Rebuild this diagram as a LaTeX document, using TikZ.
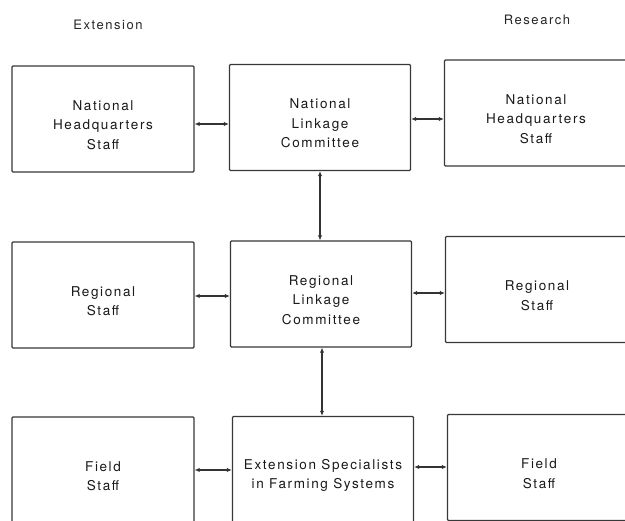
\documentclass[tikz,border=0pt]{standalone}
\usepackage{fontspec}
\setmainfont{TeX Gyre Heros}[LetterSpace=12]
\usetikzlibrary{arrows.meta,calc}
\begin{document}
\begin{tikzpicture}[x=1pt,y=-1pt,
  box/.style={draw=black!78, line width=1.4pt, rounded corners=1pt,
    minimum width=182pt, minimum height=106pt, inner sep=0pt},
  txt/.style={align=center, yshift=-6pt, text=black!90,
    font=\fontsize{13.5}{19.5}\selectfont},
  head/.style={text=black!85, font=\fontsize{13}{16}\selectfont},
  link/.style={draw=black!80, line width=1.4pt,
    {Latex[length=5pt,width=4.5pt]}-{Latex[length=5pt,width=4.5pt]}}]
\useasboundingbox (0,0) rectangle (625,521);
\clip (0,0) rectangle (625,521);
\fill[white] (0,0) rectangle (625,521);

% column headings
\node[head] (ext) at (108,25) {Extension};
\node[head] (res) at (537,20) {Research};

% extension side
\node[box, label={[txt]center:{National\\Headquarters\\Staff}}] (enh) at (103,119) {};
\node[box, label={[txt]center:{Regional\\Staff}}] (ers) at (103,295) {};
\node[box, label={[txt]center:{Field\\Staff}}] (efs) at (103,470) {};

% linkage bodies
\node[box, minimum width=181pt, label={[txt]center:{National\\Linkage\\Committee}}] (nlc) at (320,117.5) {};
\node[box, minimum width=181pt, label={[txt]center:{Regional\\Linkage\\Committee}}] (rlc) at (321,294) {};
\node[box, minimum width=181pt, label={[txt]center:{Extension Specialists\\in Farming Systems}}] (esf) at (323,469.5) {};

% research side
\node[box, minimum width=183pt, label={[txt]center:{National\\Headquarters\\Staff}}] (rnh) at (536,113) {};
\node[box, minimum width=183pt, label={[txt]center:{Regional\\Staff}}] (rrs) at (537,289.5) {};
\node[box, minimum width=183pt, label={[txt]center:{Field\\Staff}}] (rfs) at (539,467.5) {};

% horizontal links
\draw[link] (enh.east |- 0,124) -- (nlc.west |- 0,124);
\draw[link] (nlc.east |- 0,119) -- (rnh.west |- 0,119);
\draw[link] (ers.east |- 0,296) -- (rlc.west |- 0,296);
\draw[link] (rlc.east |- 0,293) -- (rrs.west |- 0,293);
\draw[link] (efs.east |- 0,470) -- (esf.west |- 0,470);
\draw[link] (esf.east |- 0,467) -- (rfs.west |- 0,467);

% vertical links
\draw[link] (nlc.south -| 320,0) -- (rlc.north -| 320,0);
\draw[link] (rlc.south -| 322,0) -- (esf.north -| 322,0);
\end{tikzpicture}
\end{document}
